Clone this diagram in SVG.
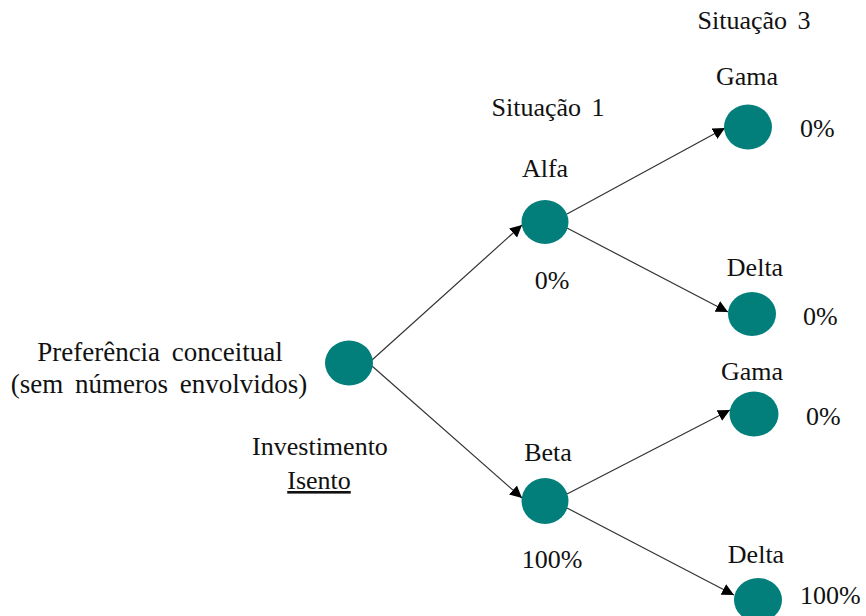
<svg xmlns="http://www.w3.org/2000/svg" width="866" height="616" viewBox="0 0 866 616">
  <style>
    text { font-family: "Liberation Serif", "Times New Roman", serif; font-size: 26px; fill: #111; }
    .c { text-anchor: middle; }
    .ws { word-spacing: 4px; }
    .wide { font-size: 27px; word-spacing: 5px; }
    .node { fill: #037f7b; }
    .edge { stroke: #333; stroke-width: 1.2; fill: none; marker-end: url(#arrow); }
  </style>
  <defs>
    <marker id="arrow" viewBox="0 0 10 10" refX="10" refY="5" markerWidth="12" markerHeight="12" markerUnits="userSpaceOnUse" orient="auto">
      <path d="M0,0 L10,5 L0,10 z" fill="#000"/>
    </marker>
  </defs>
  <rect width="866" height="616" fill="#fff"/>

  <!-- column headings -->
  <text x="754" y="29" class="c ws">Situação 3</text>
  <text x="548" y="116" class="c ws">Situação 1</text>

  <g id="edges">
    <line class="edge" x1="372" y1="360" x2="522" y2="225"/>
    <line class="edge" x1="372" y1="366" x2="522" y2="498"/>
    <line class="edge" x1="567" y1="214" x2="725" y2="128"/>
    <line class="edge" x1="567" y1="228" x2="728" y2="312"/>
    <line class="edge" x1="567" y1="494" x2="730" y2="410"/>
    <line class="edge" x1="567" y1="508" x2="734" y2="595"/>
  </g>

  <g id="root">
    <ellipse class="node" cx="349" cy="363" rx="24" ry="22.5"/>
    <text x="160" y="361" class="c wide">Preferência conceitual</text>
    <text x="159" y="393" class="c wide">(sem números envolvidos)</text>
    <text x="320" y="455" class="c">Investimento</text>
    <text x="319" y="489" class="c" text-decoration="underline">Isento</text>
  </g>

  <g id="alfa">
    <ellipse class="node" cx="545" cy="222" rx="23.5" ry="22"/>
    <text x="545" y="177" class="c">Alfa</text>
    <text x="552" y="289" class="c">0%</text>
  </g>

  <g id="beta">
    <ellipse class="node" cx="545" cy="501" rx="23.5" ry="23"/>
    <text x="548" y="461" class="c">Beta</text>
    <text x="552" y="568" class="c">100%</text>
  </g>

  <g id="alfa-gama">
    <ellipse class="node" cx="748" cy="127" rx="24" ry="22.5"/>
    <text x="747" y="85" class="c">Gama</text>
    <text x="800" y="137">0%</text>
  </g>

  <g id="alfa-delta">
    <ellipse class="node" cx="752" cy="314" rx="24" ry="22"/>
    <text x="755" y="276" class="c">Delta</text>
    <text x="803" y="325">0%</text>
  </g>

  <g id="beta-gama">
    <ellipse class="node" cx="754" cy="414" rx="24.5" ry="22.5"/>
    <text x="752" y="380" class="c">Gama</text>
    <text x="806" y="425">0%</text>
  </g>

  <g id="beta-delta">
    <ellipse class="node" cx="758" cy="600" rx="24" ry="22"/>
    <text x="756" y="563" class="c">Delta</text>
    <text x="800" y="604">100%</text>
  </g>
</svg>
